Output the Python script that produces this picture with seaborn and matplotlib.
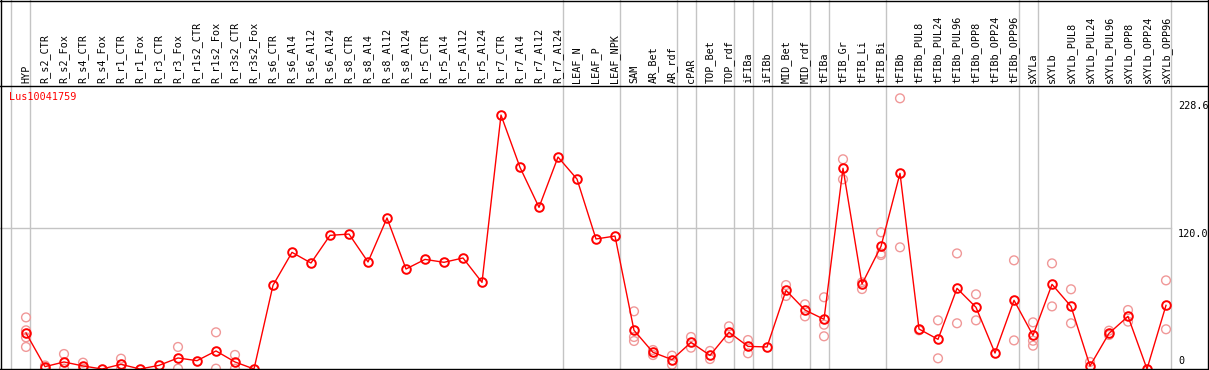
import matplotlib
matplotlib.use("Agg")
import matplotlib.pyplot as plt
import matplotlib.transforms as mtransforms
import seaborn as sns
import pandas as pd

categories = ["HYP", "R_s2_CTR", "R_s2_Fox", "R_s4_CTR", "R_s4_Fox", "R_r1_CTR", "R_r1_Fox",
              "R_r3_CTR", "R_r3_Fox", "R_r1s2_CTR", "R_r1s2_Fox", "R_r3s2_CTR", "R_r3s2_Fox",
              "R_s6_CTR", "R_s6_Al4", "R_s6_Al12", "R_s6_Al24", "R_s8_CTR", "R_s8_Al4",
              "R_s8_Al12", "R_s8_Al24", "R_r5_CTR", "R_r5_Al4", "R_r5_Al12", "R_r5_Al24",
              "R_r7_CTR", "R_r7_Al4", "R_r7_Al12", "R_r7_Al24", "LEAF_N", "LEAF_P", "LEAF_NPK",
              "SAM", "AR_Bet", "AR_rdf", "cPAR", "TOP_Bet", "TOP_rdf", "iFIBa", "iFIBb",
              "MID_Bet", "MID_rdf", "tFIBa", "tFIB_Gr", "tFIB_Li", "tFIB_Bi", "tFIBb",
              "tFIBb_PUL8", "tFIBb_PUL24", "tFIBb_PUL96", "tFIBb_OPP8", "tFIBb_OPP24",
              "tFIBb_OPP96", "sXYLa", "sXYLb", "sXYLb_PUL8", "sXYLb_PUL24", "sXYLb_PUL96",
              "sXYLb_OPP8", "sXYLb_OPP24", "sXYLb_OPP96"]

means = [30.7, 2, 6, 2.6, 0, 4, 0, 3.1, 9.4, 7.1, 15.4, 6, 0,
         71.4, 99.5, 90.4, 114, 115.1, 91.3, 128.8, 85.3, 93.5, 91, 94.7, 73.9,
         216.6, 172, 137.9, 180.8, 162, 110.9, 113.4,
         33, 14.2, 8, 22.7, 11.6, 31.3, 19.3, 18.8, 67.1, 50.3, 42.4,
         171.2, 72.5, 104.6, 166.9, 34.1, 25.3, 68.8, 52.6, 13.6, 58.6,
         28.7, 72.2, 53.4, 2.6, 30.4, 44.9, 0, 54.3]

replicates = [[44, 33, 27, 18.8], [3, 0.3], [12.8, 0.3], [5.4, 0.3], [], [8.8, 0.3], [],
              [], [18.8, 0.3], [], [31.3, 0.3], [12, 0.3], [],
              [], [], [], [], [], [], [], [], [], [], [], [],
              [], [], [], [], [], [], [],
              [49.2, 27.3, 23.9], [16.2, 11.9], [11.4, 3.7], [27.3, 18.2], [15.4, 8.5],
              [36.4, 26.2], [24.7, 13.4], [], [71.6, 62.3], [55.2, 44.9], [61.2, 37.8, 27.9],
              [178.9, 161.8], [73.9, 68.2], [116.6, 98.6, 97.2], [230.9, 103.8], [33],
              [41.5, 9.1], [98.6, 39], [63.7, 41.5], [], [92.7, 24.4],
              [39.8, 24.1, 19.9], [90.1, 53.4], [68, 39], [6], [32.7, 29], [50.3, 40.4],
              [], [75.6, 33.9]]

group_ends = [-1, 0, 28, 31, 34, 35, 37, 38, 39, 41, 42, 45, 52, 53, 60]
y_ticks = [228.6, 120.0, 0]
y_tick_labels = ["228.6", "120.0", "0"]
gene = "Lus10041759"

W, H = 1209, 370
fig = plt.figure(figsize=(W / 100, H / 100), dpi=100)
ax = fig.add_axes([0, 0, 1, 1])
ax.set_axis_off()

# pixel mapping: x_px = 26 + 19*i ; y_px(from top) = 369 - scale*v
x0, dx = 26.0, 19.0
scale = 268.0 / 228.6
xmin = -x0 / dx
xmax = xmin + W / dx
ymin = -1.0 / scale
ymax = ymin + H / scale
ax.set_xlim(xmin, xmax)
ax.set_ylim(ymin, ymax)

def px_to_x(px):
    return xmin + px / dx

def pyt_to_v(py):
    return (369 - py) / scale

grey = "#c4c4c4"
# vertical group separators
for g in group_ends:
    ax.axvline(g + 4.5 / dx, color=grey, lw=1.0, zorder=1)
# horizontal grid at 120
ax.plot([xmin, px_to_x(1170.5)], [120, 120], color=grey, lw=1.0, zorder=1)

# replicates
rep_x, rep_y = [], []
for i, reps in enumerate(replicates):
    for r in reps:
        rep_x.append(i)
        rep_y.append(r)
rep_df = pd.DataFrame({"x": rep_x, "y": rep_y})
sns.scatterplot(data=rep_df, x="x", y="y", ax=ax, marker="o", s=40,
                facecolors="none", edgecolor="#f09898", linewidth=1.0, zorder=3,
                clip_on=False, legend=False)

mean_df = pd.DataFrame({"x": list(range(len(categories))), "y": means})
sns.lineplot(data=mean_df, x="x", y="y", ax=ax, color="red", lw=1.0,
             marker="o", markersize=6.2, markerfacecolor="none",
             markeredgecolor="red", markeredgewidth=1.4, zorder=4, legend=False)
ax.set_xlim(xmin, xmax)
ax.set_ylim(ymin, ymax)

mono = ["DejaVu Sans Mono"]
# category labels
trans = mtransforms.blended_transform_factory(ax.transData, fig.transFigure)
for i, c in enumerate(categories):
    ax.text(i, (H - 83) / H, c, rotation=90, ha="center", va="bottom",
            fontsize=7.3, family=mono, color="black", transform=trans)

# gene title
ax.text(px_to_x(9), pyt_to_v(97.5), gene, ha="left", va="center",
        fontsize=7.3, family=mono, color="red")

# y tick labels
ax.text(px_to_x(1178), pyt_to_v(101), y_tick_labels[0], ha="left", va="top",
        fontsize=7.3, family=mono, color="black")
ax.text(px_to_x(1178), 120.0 - 0.3 / scale, y_tick_labels[1], ha="left", va="top",
        fontsize=7.3, family=mono, color="black")
ax.text(px_to_x(1178), pyt_to_v(366), y_tick_labels[2], ha="left", va="bottom",
        fontsize=7.3, family=mono, color="black")

# frame lines (figure pixel coords)
ft = fig.transFigure
def hline(py, x_a=0, x_b=W):
    fig.add_artist(plt.Line2D([x_a / W, x_b / W], [(H - py - 0.5) / H] * 2,
                              color="black", lw=1.0, transform=ft))
def vline(px):
    fig.add_artist(plt.Line2D([(px + 0.5) / W] * 2, [0, 1],
                              color="black", lw=1.0, transform=ft))
hline(0.3)
hline(85)
hline(368.7)
vline(0.6)
vline(1207.8)

fig.savefig("out.png", dpi=100)
